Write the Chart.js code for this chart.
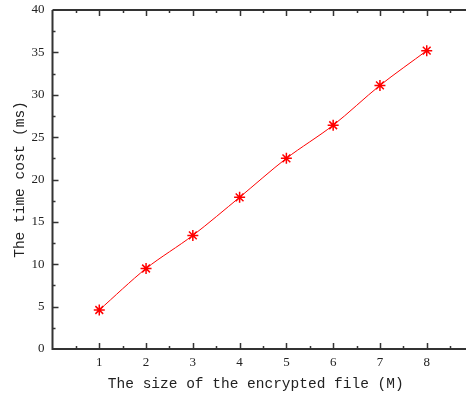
<!DOCTYPE html>
<html>
<head>
<meta charset="utf-8">
<script src="https://cdn.jsdelivr.net/npm/chart.js@4/dist/chart.umd.min.js"></script>
<style>
  html, body { margin: 0; padding: 0; background: #fff; }
  #wrap { width: 466px; height: 400px; position: relative; }
</style>
</head>
<body>
<div id="wrap"><canvas id="c" width="466" height="400"></canvas></div>
<script>
const fileSizes = [1, 2, 3, 4, 5, 6, 7, 8];
const timeCost = [4.6, 9.5, 13.4, 17.9, 22.5, 26.4, 31.1, 35.2];
const xTickValues = [1, 2, 3, 4, 5, 6, 7, 8];
const yTickValues = [0, 5, 10, 15, 20, 25, 30, 35, 40];
const xTitle = 'The size of the encrypted file (M)';
const yTitle = 'The time cost (ms)';

const axisColor = '#333333';

function noPad(s) {
  s.paddingLeft = 0; s.paddingRight = 0; s.paddingTop = 0; s.paddingBottom = 0;
}

const framePlugin = {
  id: 'frame',
  afterDraw(chart) {
    const ctx = chart.ctx, ca = chart.chartArea;
    const xs = chart.scales.x, ys = chart.scales.y;
    ctx.save();
    ctx.strokeStyle = axisColor;
    ctx.lineWidth = 2;
    ctx.beginPath();
    ctx.moveTo(ca.left, ca.top); ctx.lineTo(chart.width, ca.top);
    ctx.moveTo(ca.left, ca.top); ctx.lineTo(ca.left, ca.bottom);
    ctx.lineTo(chart.width, ca.bottom);
    ctx.stroke();
    ctx.lineWidth = 1.5;
    ctx.beginPath();
    for (let v = 0.5; v <= 9; v += 0.5) {
      const px = Math.round(xs.getPixelForValue(v)) + 0.5;
      if (px > chart.width) break;
      const len = Number.isInteger(v) ? 6 : 3;
      ctx.moveTo(px, ca.bottom); ctx.lineTo(px, ca.bottom - len);
      ctx.moveTo(px, ca.top); ctx.lineTo(px, ca.top + len);
    }
    for (let v = 2.5; v < ys.max; v += 2.5) {
      const py = Math.round(ys.getPixelForValue(v)) + 0.5;
      const len = (v % 5 === 0) ? 6 : 3;
      ctx.moveTo(ca.left, py); ctx.lineTo(ca.left + len, py);
    }
    ctx.stroke();
    ctx.restore();
  }
};

new Chart(document.getElementById('c'), {
  type: 'line',
  data: {
    datasets: [{
      data: fileSizes.map((x, i) => ({ x: x, y: timeCost[i] })),
      borderColor: '#ff0000',
      backgroundColor: '#ff0000',
      borderWidth: 1,
      tension: 0.3,
      pointStyle: 'star',
      pointRadius: 5.5,
      pointBorderWidth: 1.5,
      pointBorderColor: '#ff0000',
      fill: false
    }]
  },
  options: {
    responsive: false,
    animation: false,
    layout: { padding: { top: 10, right: 0, left: 0, bottom: 0 } },
    plugins: { legend: { display: false }, tooltip: { enabled: false } },
    scales: {
      x: {
        type: 'linear',
        bounds: 'data',
        min: 0,
        max: 8.69,
        afterFit(s) { s.height = 51; noPad(s); },
        afterBuildTicks(s) { s.ticks = xTickValues.map(v => ({ value: v })); },
        grid: { display: false, drawTicks: false },
        border: { display: false },
        ticks: {
          padding: 6,
          includeBounds: false,
          color: '#222',
          font: { family: 'Liberation Serif', size: 13 },
          maxRotation: 0,
          autoSkip: false
        },
        title: {
          display: true,
          text: xTitle,
          color: '#222',
          font: { family: 'Liberation Mono', size: 14.5 },
          padding: { top: 0, bottom: 7 }
        }
      },
      y: {
        min: 0,
        max: 40,
        afterFit(s) { s.width = 52.5; noPad(s); },
        afterBuildTicks(s) { s.ticks = yTickValues.map(v => ({ value: v })); },
        grid: { display: false, drawTicks: false },
        border: { display: false },
        ticks: {
          padding: 8,
          color: '#222',
          font: { family: 'Liberation Serif', size: 13 }
        },
        title: {
          display: true,
          text: yTitle,
          color: '#222',
          font: { family: 'Liberation Mono', size: 14.5 },
          padding: { top: 11, bottom: 0 }
        }
      }
    }
  },
  plugins: [framePlugin]
});
</script>
</body>
</html>
